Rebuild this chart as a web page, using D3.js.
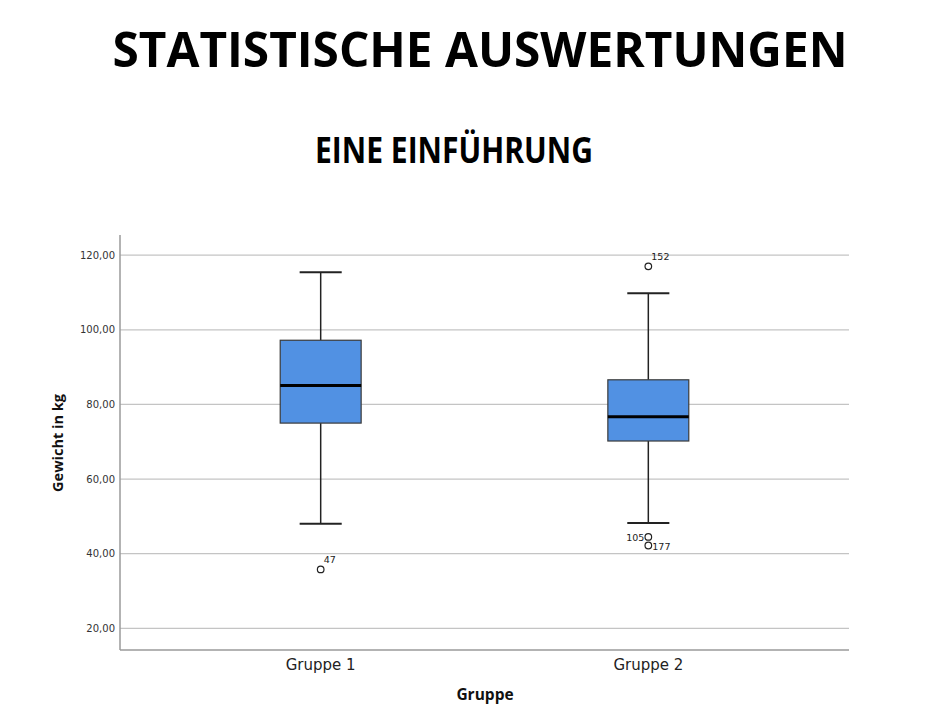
<!DOCTYPE html>
<html><head><meta charset="utf-8">
<script src="https://cdn.jsdelivr.net/npm/d3@7/dist/d3.min.js"></script>
<style>body{margin:0;background:#fff}svg{display:block}</style>
</head><body>
<svg id="c" width="942" height="728"></svg>
<script>
const categories = ["Gruppe 1", "Gruppe 2"];
const whiskerLow = [48.0, 48.2];
const q1 = [75.0, 70.2];
const median = [85.1, 76.7];
const q3 = [97.2, 86.6];
const whiskerHigh = [115.4, 109.8];
const outlierGroup = ["Gruppe 1", "Gruppe 2", "Gruppe 2", "Gruppe 2"];
const outlierValue = [35.8, 117.0, 44.5, 42.2];
const outlierId = ["47", "152", "105", "177"];
const outlierSide = ["right", "right", "left", "right"];
const yTicks = [20, 40, 60, 80, 100, 120];

const svg = d3.select("#c");
const L = 120, R = 849, T = 235, B = 650;
const y = d3.scaleLinear().domain([14.2, 125.4]).range([B, T]);
const x = d3.scaleBand().domain(categories).range([L, R]).paddingInner(0.753).paddingOuter(0.489);
const fmt = v => d3.format(".2f")(v).replace(".", ",");

// titles
svg.append("text").attr("x", 480).attr("y", 67).attr("text-anchor", "middle")
  .attr("font-family", "Open Sans, sans-serif").attr("font-weight", 700).attr("font-size", 49)
  .attr("textLength", 735).attr("lengthAdjust", "spacingAndGlyphs").text("STATISTISCHE AUSWERTUNGEN");
svg.append("text").attr("x", 454).attr("y", 163).attr("text-anchor", "middle")
  .attr("font-family", "Open Sans, sans-serif").attr("font-weight", 700).attr("font-size", 35)
  .attr("textLength", 278).attr("lengthAdjust", "spacingAndGlyphs").text("EINE EINFÜHRUNG");

// grid
svg.append("g").selectAll("line").data(yTicks).join("line")
  .attr("x1", L).attr("x2", R).attr("y1", d => y(d)).attr("y2", d => y(d))
  .attr("stroke", "#c4c4c4").attr("stroke-width", 1.2);

// y axis
const ya = svg.append("g").attr("transform", `translate(${L},0)`)
  .call(d3.axisLeft(y).tickValues(yTicks).tickFormat(fmt).tickSize(0).tickPadding(5));
ya.select(".domain").attr("stroke", "#9a9a9a").attr("stroke-width", 1.5).attr("d", `M0,${T}V${B}`);
ya.selectAll("text").attr("font-family", "DejaVu Sans, sans-serif").attr("font-size", 10).attr("fill", "#333");

// x axis
const xa = svg.append("g").attr("transform", `translate(0,${B})`)
  .call(d3.axisBottom(x).tickSize(0).tickPadding(9));
xa.select(".domain").attr("stroke", "#9a9a9a").attr("stroke-width", 1.5).attr("d", `M${L},0H${R}`);
xa.selectAll("text").attr("font-family", "DejaVu Sans, sans-serif").attr("font-size", 15).attr("fill", "#222");

// axis titles
svg.append("text").attr("transform", `translate(63,443) rotate(-90)`).attr("text-anchor", "middle")
  .attr("font-family", "Open Sans, sans-serif").attr("font-weight", 700).attr("font-size", 14.5).attr("fill", "#111")
  .text("Gewicht in kg");
svg.append("text").attr("x", 485).attr("y", 700).attr("text-anchor", "middle")
  .attr("font-family", "Open Sans, sans-serif").attr("font-weight", 700).attr("font-size", 15.5).attr("fill", "#111")
  .text("Gruppe");

// boxes
const g = svg.append("g");
const bw = x.bandwidth();
categories.forEach((c, i) => {
  const cx = x(c) + bw / 2;
  const capW = bw * 0.52;
  g.append("line").attr("x1", cx).attr("x2", cx).attr("y1", y(whiskerHigh[i])).attr("y2", y(q3[i])).attr("stroke", "#222").attr("stroke-width", 1.5);
  g.append("line").attr("x1", cx).attr("x2", cx).attr("y1", y(q1[i])).attr("y2", y(whiskerLow[i])).attr("stroke", "#222").attr("stroke-width", 1.5);
  g.append("line").attr("x1", cx - capW / 2).attr("x2", cx + capW / 2).attr("y1", y(whiskerHigh[i])).attr("y2", y(whiskerHigh[i])).attr("stroke", "#222").attr("stroke-width", 2);
  g.append("line").attr("x1", cx - capW / 2).attr("x2", cx + capW / 2).attr("y1", y(whiskerLow[i])).attr("y2", y(whiskerLow[i])).attr("stroke", "#222").attr("stroke-width", 2);
  g.append("rect").attr("x", x(c)).attr("width", bw).attr("y", y(q3[i])).attr("height", y(q1[i]) - y(q3[i]))
    .attr("fill", "#5191e3").attr("stroke", "#3a3a3a").attr("stroke-width", 1.2);
  g.append("line").attr("x1", x(c)).attr("x2", x(c) + bw).attr("y1", y(median[i])).attr("y2", y(median[i])).attr("stroke", "#000").attr("stroke-width", 3);
});

// outliers
outlierValue.forEach((v, i) => {
  const cx = x(outlierGroup[i]) + bw / 2;
  const cy = y(v);
  g.append("circle").attr("cx", cx).attr("cy", cy).attr("r", 3.3).attr("fill", "none").attr("stroke", "#222").attr("stroke-width", 1.2);
  const right = outlierSide[i] === "right";
  const up = (outlierId[i] === "47" || outlierId[i] === "152");
  g.append("text").attr("x", right ? cx + (up ? 3 : 4) : cx - 4).attr("y", up ? cy - 6 : cy + 4)
    .attr("text-anchor", right ? "start" : "end")
    .attr("font-family", "DejaVu Sans, sans-serif").attr("font-size", 9.5).attr("fill", "#222").text(outlierId[i]);
});
</script>
</body></html>
